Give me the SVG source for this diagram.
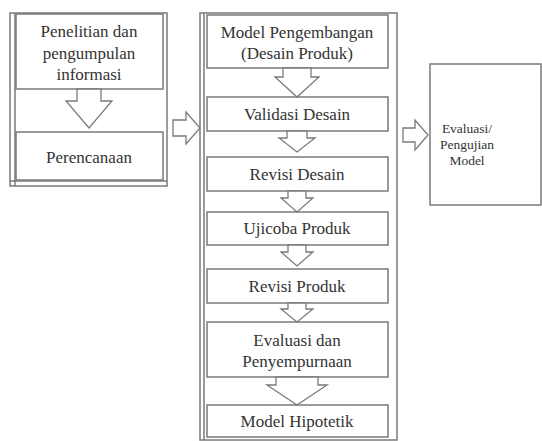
<svg xmlns="http://www.w3.org/2000/svg" width="542" height="441" viewBox="0 0 542 441">
<style>
.b{fill:#fff;stroke:#7a7a7a;stroke-width:1.5}
.o{fill:none;stroke:#7a7a7a;stroke-width:1.5}
.a{fill:#fff;stroke:#7a7a7a;stroke-width:1.3;stroke-linejoin:miter}
.t{font-size:17px;fill:#333;text-anchor:middle}
.s{font-size:13.5px}
</style>
<rect width="542" height="441" fill="#fff"/>
<g id="left-group">
<rect class="o" x="10" y="13" width="157" height="173"/>
<line class="o" x1="15" y1="13" x2="15" y2="186"/>
<line class="o" x1="10" y1="181" x2="167" y2="181"/>
</g>
<g class="t" font-family="'Liberation Serif', 'Times New Roman', 'DejaVu Serif', serif">
<g id="n-penelitian">
<rect class="b" x="16" y="14" width="147" height="75"/>
<text x="89" y="37">Penelitian dan</text>
<text x="89" y="59">pengumpulan</text>
<text x="89" y="80">informasi</text>
</g>
<g id="n-perencanaan">
<rect class="b" x="16" y="132" width="147" height="48"/>
<text x="89" y="163">Perencanaan</text>
</g>
<g id="mid-group">
<rect class="o" x="200" y="13" width="197" height="427"/>
<line class="o" x1="204" y1="13" x2="204" y2="440"/>
</g>
<g id="n-model">
<rect class="b" x="207" y="15" width="181" height="53"/>
<text x="297" y="38">Model Pengembangan</text>
<text x="297" y="59">(Desain Produk)</text>
</g>
<g id="n-validasi">
<rect class="b" x="207" y="97" width="181" height="34"/>
<text x="297" y="120">Validasi Desain</text>
</g>
<g id="n-revisi-desain">
<rect class="b" x="207" y="157" width="181" height="34"/>
<text x="297" y="180">Revisi Desain</text>
</g>
<g id="n-ujicoba">
<rect class="b" x="207" y="212" width="181" height="33"/>
<text x="297" y="234">Ujicoba Produk</text>
</g>
<g id="n-revisi-produk">
<rect class="b" x="207" y="269" width="181" height="34"/>
<text x="297" y="292">Revisi Produk</text>
</g>
<g id="n-evaluasi">
<rect class="b" x="207" y="322" width="181" height="55"/>
<text x="297" y="346">Evaluasi dan</text>
<text x="297" y="367">Penyempurnaan</text>
</g>
<g id="n-hipotetik">
<rect class="b" x="207" y="405" width="181" height="32"/>
<text x="297" y="427">Model Hipotetik</text>
</g>
<g id="n-pengujian">
<rect class="b" x="430" y="64" width="111" height="141"/>
<text class="s" x="467" y="133">Evaluasi/</text>
<text class="s" x="467" y="149">Pengujian</text>
<text class="s" x="467" y="165">Model</text>
</g>
</g>
<g id="connectors">
<polygon class="a" points="77,89 101,89 101,101 112,101 89,128 66,101 77,101"/>
<polygon class="a" points="283,68 311,68 311,77 319,77 297,97 275,77 283,77"/>
<polygon class="a" points="287,131 307,131 307,138 315,138 297,152 279,138 287,138"/>
<polygon class="a" points="288,191 306,191 306,198 313,198 297,212 281,198 288,198"/>
<polygon class="a" points="288,245 306,245 306,252 313,252 297,266 281,252 288,252"/>
<polygon class="a" points="288,303 306,303 306,309 313,309 297,322 281,309 288,309"/>
<polygon class="a" points="276,377 318,377 318,385 327,385 297,405 267,385 276,385"/>
<polygon class="a" points="173,120 186,120 186,112 200,128 186,144 186,136 173,136"/>
<polygon class="a" points="403,128 415,128 415,120 428,135 415,150 415,142 403,142"/>
</g>
</svg>
